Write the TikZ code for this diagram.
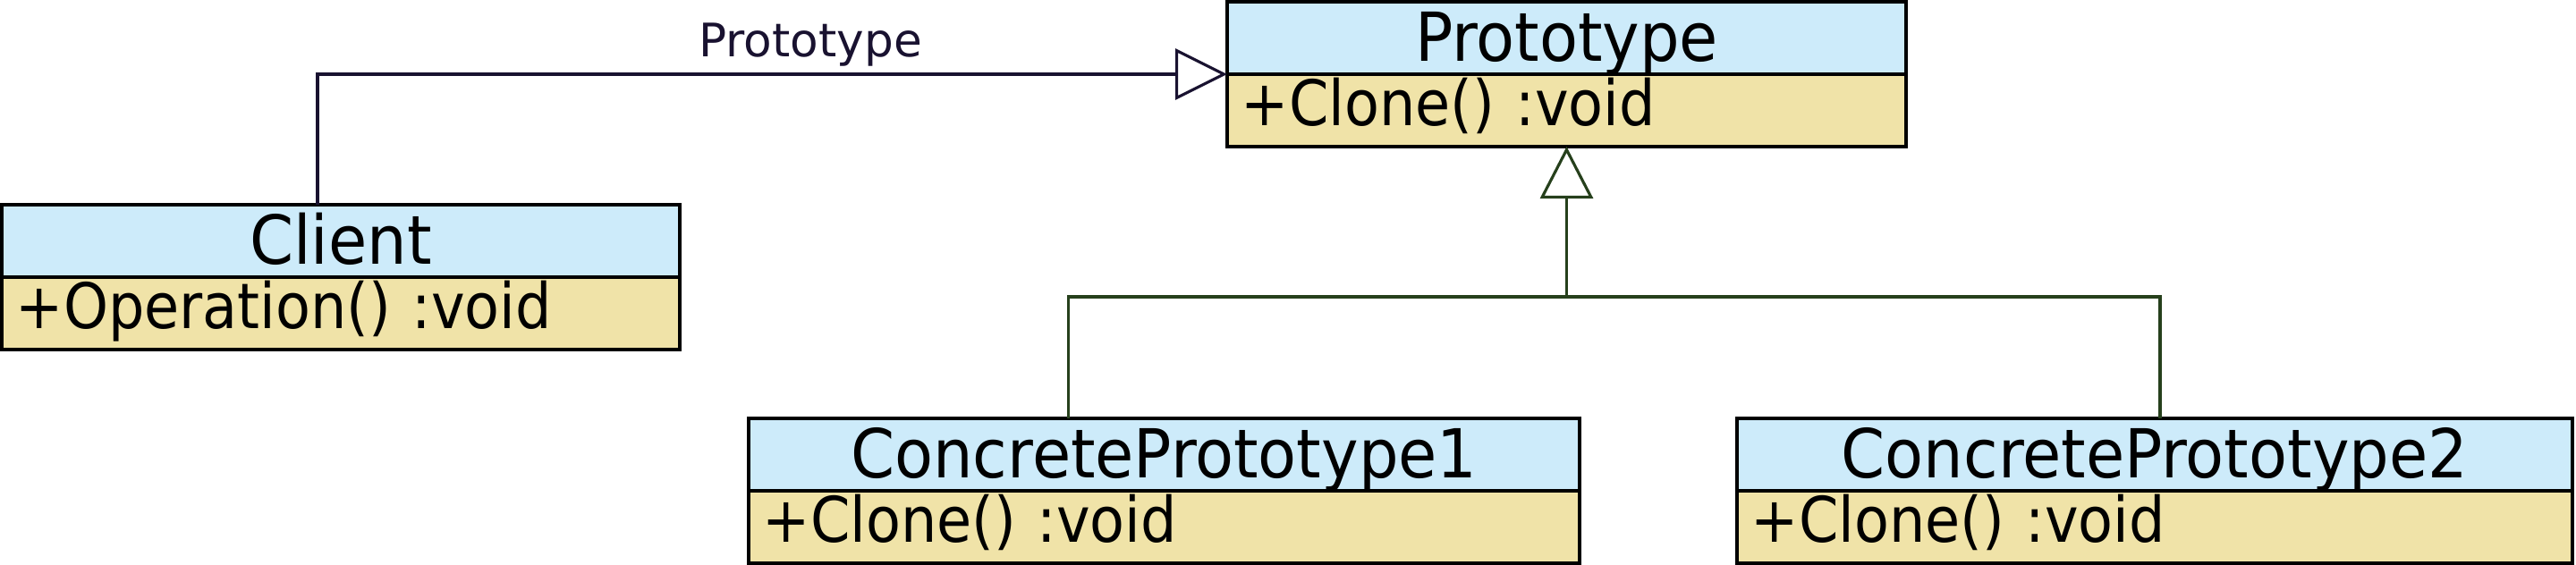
\documentclass[tikz,border=0pt]{standalone}
\usepackage{fontspec}
\setmainfont{DejaVu Sans}
\newfontfamily\umlhdfont{DejaVu Sans}[FakeStretch=0.93]
\newfontfamily\umlopfont{DejaVu Sans}[FakeStretch=0.905]
\usepackage{xcolor}
\usetikzlibrary{positioning,arrows.meta}
\definecolor{umlhead}{RGB}{205,235,250}
\definecolor{umlbody}{RGB}{240,227,168}
\definecolor{assocclr}{RGB}{25,18,48}
\definecolor{genclr}{RGB}{38,64,28}
\tikzset{ClassName/.style={draw=black,fill=umlhead,line width=0.9pt,anchor=north west,minimum width=#1,minimum height=8.1mm,inner sep=0pt,outer sep=0pt,text height=17pt,text depth=2.2pt,font=\umlhdfont\fontsize{21.5}{24}\selectfont},
         ClassOps/.style={draw=black,fill=umlbody,line width=0.9pt,text width=#1,minimum height=8.1mm,inner xsep=4.5pt,inner ysep=0pt,outer sep=0pt,align=left,text height=15pt,text depth=5.3pt,font=\umlopfont\fontsize{20}{24}\selectfont},
         Assoc/.style={draw=assocclr,line width=0.9pt},
         Gen/.style={draw=genclr,line width=0.9pt}}

\begin{document}
\begin{tikzpicture}
            \useasboundingbox (0,0) rectangle (28.8,-6.32);
            \node[ClassName=7.58cm] (clientH) at (0.02,-2.29) {Client};
            \node[ClassOps=7.264cm, below=0pt of clientH] (clientB) {+Operation() :void};
            \node[ClassName=7.59cm] (protoH) at (13.72,-0.02) {Prototype};
            \node[ClassOps=7.274cm, below=0pt of protoH] (protoB) {+Clone() :void};
            \node[ClassName=9.29cm] (cp1H) at (8.37,-4.68) {ConcretePrototype1};
            \node[ClassOps=8.974cm, below=0pt of cp1H] (cp1B) {+Clone() :void};
            \node[ClassName=9.34cm] (cp2H) at (19.42,-4.68) {ConcretePrototype2};
            \node[ClassOps=9.024cm, below=0pt of cp2H] (cp2B) {+Clone() :void};
            \coordinate[below=1.68cm of protoB.south] (fork);
            % association
            \draw[Assoc,-{Triangle[open,fill=white,length=5.8mm,width=5.7mm]}] ([xshift=-2.6mm]clientH.north) |- (protoH.south west)
                node[pos=0.771,above=2pt,inner sep=0pt,text=assocclr,font=\fontsize{14.7}{17}\selectfont] (assocLbl) {Prototype};
            % generalization
            \draw[Gen,-{Triangle[open,fill=white,length=5.8mm,width=5.9mm]}] (fork) -- (protoB.south);
            \draw[Gen] ([xshift=-10.7mm]cp1H.north) |- (fork) -| ([xshift=0.6mm]cp2H.north);
        \end{tikzpicture}
\end{document}
